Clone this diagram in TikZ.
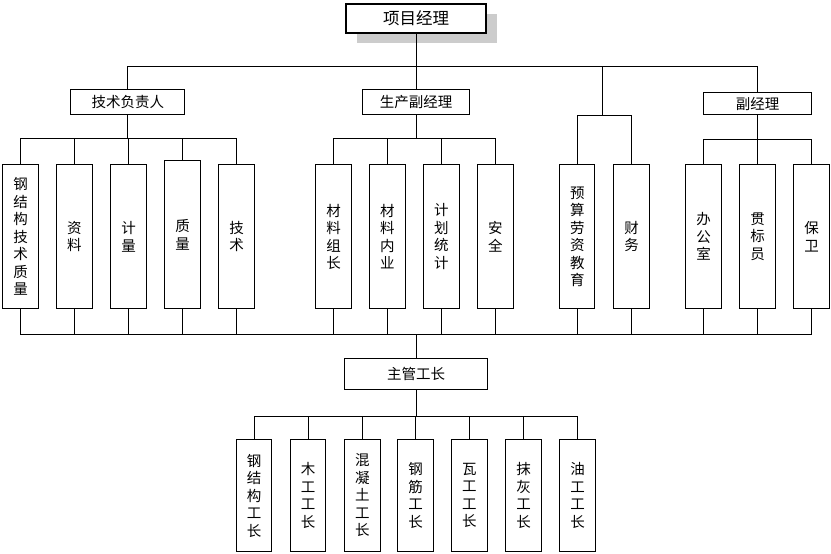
\documentclass[tikz,border=0pt]{standalone}
\usepackage{fontspec}
\setmainfont{Noto Sans CJK SC}
\usetikzlibrary{positioning, shadows}

\tikzset{
    unit/.style={draw, fill=white, inner sep=0pt, font=\fontsize{14.5}{17.5}\selectfont},
    head/.style={unit, minimum height=25pt},
    col/.style={unit, align=center, minimum width=35.3pt, minimum height=144pt},
    crew/.style={col, minimum height=112pt},
    fork/.style={to path={-- ++(0,#1) -| (\tikztotarget)}},
}

\begin{document}
\begin{tikzpicture}[x=1pt, y=-1pt, line width=1pt]
    \useasboundingbox (0,0) rectangle (831,554);

    % Nodes
    \node (pm) at (416.2,18.7) [unit, line width=2pt, minimum width=140pt, minimum height=29pt,
        font=\fontsize{16.5}{18}\selectfont,
        drop shadow={shadow xshift=10.5pt, shadow yshift=-9.5pt, fill=black!20, opacity=1}] {项目经理};

    \node (jsfz) at (127.8,102.3) [head, minimum width=114pt] {技术负责人};
    \node (scfjl) at (416,102.3) [head, minimum width=106.4pt] {生产副经理};
    \node (fjl) at (757.5,103.8) [head, minimum width=107.4pt, minimum height=22pt] {副经理};
    \coordinate (ys) at (602.3,115.3);

    \node (a1) at (20.5,236.7) [col] {钢\\结\\构\\技\\术\\质\\量};
    \node (a2) at (74.4,236.7) [col] {资\\料};
    \node (a3) at (128.5,236.7) [col] {计\\量};
    \node (a4) at (182.5,234.8) [col, minimum height=148pt] {质\\量};
    \node (a5) at (236.5,236.7) [col] {技\\术};

    \node (b1) at (333.5,236.7) [col] {材\\料\\组\\长};
    \node (b2) at (387.4,236.7) [col] {材\\料\\内\\业};
    \node (b3) at (441.4,236.7) [col] {计\\划\\统\\计};
    \node (b4) at (495.4,236.7) [col] {安\\全};

    \node (c1) at (577.3,236.7) [col] {预\\算\\劳\\资\\教\\育};
    \node (c2) at (631.5,236.7) [col] {财\\务};

    \node (d1) at (703.5,236.7) [col] {办\\公\\室};
    \node (d2) at (757.5,236.7) [col] {贯\\标\\员};
    \node (d3) at (811.5,236.7) [col] {保\\卫};

    \node (zgz) at (416,374.2) [unit, minimum width=142.4pt, minimum height=30.7pt] {主管工长};

    \node (w1) at (254,495.5) [crew] {钢\\结\\构\\工\\长};
    \node (w2) at (308.2,495.5) [crew] {木\\工\\工\\长};
    \node (w3) at (362.4,495.5) [crew] {混\\凝\\土\\工\\长};
    \node (w4) at (415.6,495.5) [crew] {钢\\筋\\工\\长};
    \node (w5) at (469.4,495.5) [crew] {瓦\\工\\工\\长};
    \node (w6) at (523.5,495.5) [crew] {抹\\灰\\工\\长};
    \node (w7) at (577.5,495.5) [crew] {油\\工\\工\\长};

    % edges
    \draw
        (pm.south) edge[fork=32.5] (jsfz.north)
        (pm.south) edge[fork=32.5] (scfjl.north)
        (pm.south) edge[fork=32.5] (ys)
        (pm.south) edge[fork=32.5] (fjl.north)
        (jsfz.south) edge[fork=23.5] (a1.north)
        (jsfz.south) edge[fork=23.5] (a2.north)
        (jsfz.south) edge[fork=23.5] (a3.north)
        (jsfz.south) edge[fork=23.5] (a4.north)
        (jsfz.south) edge[fork=23.5] (a5.north)
        (scfjl.south) edge[fork=23.5] (b1.north)
        (scfjl.south) edge[fork=23.5] (b2.north)
        (scfjl.south) edge[fork=23.5] (b3.north)
        (scfjl.south) edge[fork=23.5] (b4.north)
        (ys) edge[fork=0] (c1.north)
        (ys) edge[fork=0] (c2.north)
        (fjl.south) edge[fork=24.5] (d1.north)
        (fjl.south) edge[fork=24.5] (d2.north)
        (fjl.south) edge[fork=24.5] (d3.north)
        (a1.south) edge[fork=25.3] (zgz.north)
        (a2.south) edge[fork=25.3] (zgz.north)
        (a3.south) edge[fork=25.3] (zgz.north)
        (a4.south) edge[fork=25.3] (zgz.north)
        (a5.south) edge[fork=25.3] (zgz.north)
        (b1.south) edge[fork=25.3] (zgz.north)
        (b2.south) edge[fork=25.3] (zgz.north)
        (b3.south) edge[fork=25.3] (zgz.north)
        (b4.south) edge[fork=25.3] (zgz.north)
        (c1.south) edge[fork=25.3] (zgz.north)
        (c2.south) edge[fork=25.3] (zgz.north)
        (d1.south) edge[fork=25.3] (zgz.north)
        (d2.south) edge[fork=25.3] (zgz.north)
        (d3.south) edge[fork=25.3] (zgz.north)
        (zgz.south) edge[fork=26.2] (w1.north)
        (zgz.south) edge[fork=26.2] (w2.north)
        (zgz.south) edge[fork=26.2] (w3.north)
        (zgz.south) edge[fork=26.2] (w4.north)
        (zgz.south) edge[fork=26.2] (w5.north)
        (zgz.south) edge[fork=26.2] (w6.north)
        (zgz.south) edge[fork=26.2] (w7.north);

\end{tikzpicture}
\end{document}
